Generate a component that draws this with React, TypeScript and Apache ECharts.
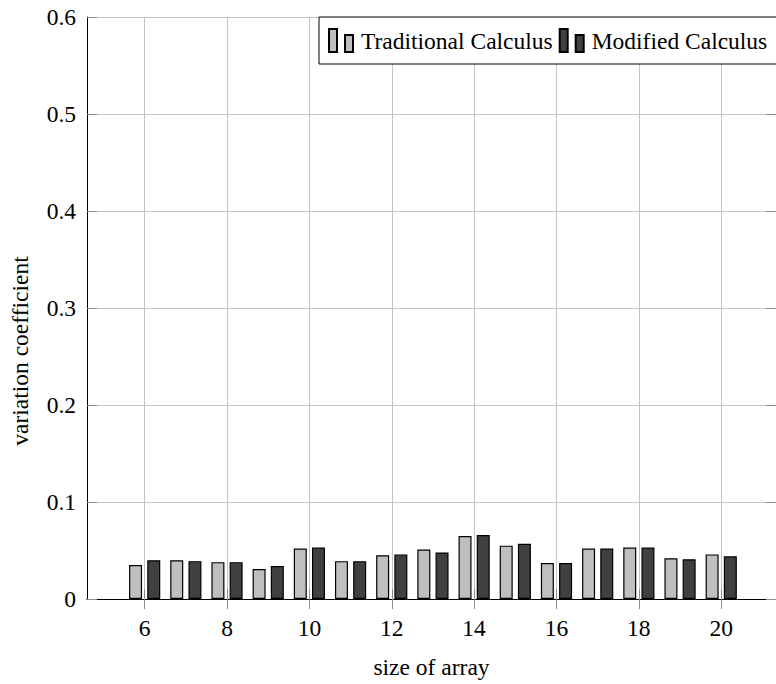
import React, { useEffect, useRef } from 'react';
import * as echarts from 'echarts';

const sizes = [6, 7, 8, 9, 10, 11, 12, 13, 14, 15, 16, 17, 18, 19, 20];
const traditional = [0.035, 0.040, 0.038, 0.031, 0.052, 0.039, 0.045, 0.051, 0.065, 0.055, 0.037, 0.052, 0.053, 0.042, 0.046];
const modified = [0.040, 0.039, 0.038, 0.034, 0.053, 0.039, 0.046, 0.048, 0.066, 0.057, 0.037, 0.052, 0.053, 0.041, 0.044];
const xTickValues = [6, 8, 10, 12, 14, 16, 18, 20];
const seriesNames = ['Traditional Calculus', 'Modified Calculus'];

const FONT = 'Liberation Serif';
const FS = 23.5;

export default function App() {
  const ref = useRef<HTMLDivElement>(null);
  useEffect(() => {
    if (!ref.current) return;
    const chart = echarts.init(ref.current, null, { renderer: 'svg' });
    const gridColor = '#c4c4c4';
    const tickColor = '#8c8c8c';
    chart.setOption({
      animation: false,
      backgroundColor: '#fff',
      textStyle: { fontFamily: FONT },
      grid: { left: 86, top: 17, right: -1, bottom: 84, containLabel: false },
      legend: {
        left: 319,
        top: 17,
        width: 460,
        padding: [11, 10, 11, 9],
        itemGap: 6,
        itemWidth: 24,
        itemHeight: 23,
        symbolKeepAspect: false,
        icon: 'path://M0,0H8V23H0Z M16,6H24V23H16Z',
        borderColor: '#000',
        borderWidth: 1,
        backgroundColor: '#fff',
        borderRadius: 0,
        textStyle: { fontFamily: FONT, fontSize: FS, color: '#000', padding: [0, 0, 0, 3] },
        data: seriesNames,
      },
      xAxis: [
        {
          type: 'value',
          min: 4.6,
          max: 21.33,
          position: 'bottom',
          name: 'size of array',
          nameLocation: 'middle',
          nameGap: 56,
          nameTextStyle: { fontFamily: FONT, fontSize: FS, color: '#000' },
          axisLine: { show: true, lineStyle: { color: '#000', width: 1 } },
          axisTick: { show: true, inside: false, length: 10, customValues: xTickValues, lineStyle: { color: tickColor } },
          axisLabel: { customValues: xTickValues, fontFamily: FONT, fontSize: FS, color: '#000', margin: 17 },
          splitLine: { show: true, lineStyle: { color: gridColor, width: 1 } },
        },
        {
          type: 'value',
          min: 4.6,
          max: 21.33,
          position: 'top',
          axisLine: { show: true, lineStyle: { color: '#000', width: 1 } },
          axisTick: { show: true, inside: false, length: 10, customValues: xTickValues, lineStyle: { color: tickColor } },
          axisLabel: { show: false },
          splitLine: { show: false },
        },
      ],
      yAxis: [
        {
          type: 'value',
          min: 0,
          max: 0.6,
          interval: 0.1,
          position: 'left',
          name: 'variation coefficient',
          nameLocation: 'middle',
          nameGap: 55,
          nameTextStyle: { fontFamily: FONT, fontSize: FS, color: '#000', padding: [0, 86, 0, 0] },
          axisLine: { show: true, lineStyle: { color: '#000', width: 1 } },
          axisTick: { show: true, inside: true, length: 10, lineStyle: { color: tickColor } },
          axisLabel: { fontFamily: FONT, fontSize: FS, color: '#000', margin: 11 },
          splitLine: { show: true, lineStyle: { color: gridColor, width: 1 } },
        },
        {
          type: 'value',
          min: 0,
          max: 0.6,
          interval: 0.1,
          position: 'right',
          axisLine: { show: true, lineStyle: { color: '#000', width: 1 } },
          axisTick: { show: true, inside: true, length: 10, lineStyle: { color: tickColor } },
          axisLabel: { show: false },
          splitLine: { show: false },
        },
      ],
      series: [
        {
          name: seriesNames[0],
          type: 'bar',
          xAxisIndex: 0,
          yAxisIndex: 0,
          barWidth: 13,
          barGap: '40%',
          itemStyle: { color: '#bfbfbf', borderColor: '#000', borderWidth: 1.2 },
          data: sizes.map((s, i) => [s, traditional[i]]),
        },
        {
          name: seriesNames[1],
          type: 'bar',
          xAxisIndex: 0,
          yAxisIndex: 0,
          barWidth: 13,
          barGap: '40%',
          itemStyle: { color: '#404040', borderColor: '#000', borderWidth: 1.2 },
          data: sizes.map((s, i) => [s, modified[i]]),
        },
      ],
    });
    return () => chart.dispose();
  }, []);
  return <div ref={ref} style={{ position: 'fixed', left: 0, top: 0, width: 776, height: 684 }} />;
}
